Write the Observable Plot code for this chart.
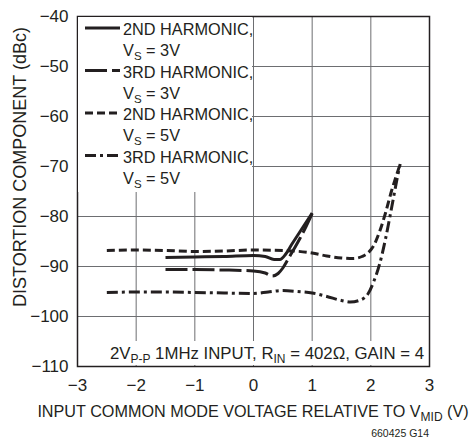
<!DOCTYPE html>
<html><head><meta charset="utf-8">
<script src="https://cdn.jsdelivr.net/npm/d3@7"></script>
<script src="https://cdn.jsdelivr.net/npm/@observablehq/plot@0.6"></script>
<style>
body{margin:0;background:#fff;}
#wrap{position:relative;width:474px;height:444px;}
#wrap svg{position:absolute;left:0;top:0;}
</style></head><body><div id="wrap"></div>
<script>
// ---- data ----
const xTicks = [-3, -2, -1, 0, 1, 2, 3];
const yTicks = [-110, -100, -90, -80, -70, -60, -50, -40];

const seriesHarmonic = ["2ND HARMONIC,", "3RD HARMONIC,", "2ND HARMONIC,", "3RD HARMONIC,"];
const seriesSupply = ["3V", "3V", "5V", "5V"];

// 2nd harmonic, VS = 3V
const x2nd3V = [-1.5, -1, -0.5, 0, 0.2, 0.35, 0.45, 0.55, 0.65, 0.75, 0.85, 1.0];
const y2nd3V = [-88.2, -88.1, -88.0, -87.8, -88.0, -88.6, -88.6, -87.5, -85.6, -83.8, -82.0, -79.3];
// 3rd harmonic, VS = 3V
const x3rd3V = [-1.5, -1, -0.5, 0, 0.2, 0.32, 0.42, 0.5, 0.6, 0.7, 0.8, 0.9, 1.0];
const y3rd3V = [-90.6, -90.6, -90.7, -90.9, -91.3, -91.9, -91.4, -90.3, -88.3, -86.3, -84.2, -81.9, -79.4];
// 2nd harmonic, VS = 5V
const x2nd5V = [-2.5, -2, -1.5, -1, -0.5, 0, 0.5, 1, 1.25, 1.5, 1.7, 1.85, 1.95, 2.05, 2.15, 2.25, 2.35, 2.45, 2.5];
const y2nd5V = [-86.8, -86.7, -86.8, -87.0, -86.9, -86.7, -86.8, -87.3, -87.9, -88.3, -88.4, -88.0, -87.3, -85.8, -83.0, -79.3, -75.0, -71.3, -69.5];
// 3rd harmonic, VS = 5V
const x3rd5V = [-2.5, -2, -1.5, -1, -0.5, 0, 0.25, 0.5, 0.75, 1, 1.25, 1.5, 1.65, 1.8, 1.95, 2.05, 2.15, 2.25, 2.35, 2.45, 2.5];
const y3rd5V = [-95.2, -95.1, -95.1, -95.2, -95.3, -95.4, -95.1, -94.8, -95.0, -95.3, -96.0, -96.8, -97.1, -96.8, -95.5, -93.0, -89.5, -84.5, -78.5, -72.3, -69.5];

// ---- styles ----
const FONT = '"Liberation Sans", Arial, Helvetica, sans-serif';
const INK = "#231f20";
const dashes = [null, "22,5", "8,4", "11,4,3,4"];
const LW = 3;

const xs = [x2nd3V, x3rd3V, x2nd5V, x3rd5V];
const ys = [y2nd3V, y3rd3V, y2nd5V, y3rd5V];
const rows = (i) => xs[i].map((x, k) => ({x, y: ys[i][k]}));
const fmt = d => d < 0 ? "\u2212" + Math.abs(d) : String(d);

const lineMarks = xs.map((_, i) => Plot.line(rows(i), {
  x: "x", y: "y", curve: "monotone-x", stroke: INK, strokeWidth: LW,
  strokeDasharray: dashes[i] || undefined, strokeLinecap: "butt"
}));

const chart = Plot.plot({
  width: 474, height: 444,
  marginLeft: 77, marginRight: 45, marginTop: 16, marginBottom: 78,
  style: {fontFamily: FONT, fontSize: "17px", color: INK, background: "white"},
  x: {domain: [-3, 3], ticks: xTicks, tickSize: 0, tickPadding: 12, label: null, tickFormat: fmt},
  y: {domain: [-110, -40], ticks: yTicks, tickSize: 0, tickPadding: 9, label: null, tickFormat: fmt},
  marks: [
    Plot.gridX(xTicks, {stroke: "#6d6e71", strokeOpacity: 1, strokeWidth: 1}),
    Plot.gridY(yTicks, {stroke: "#6d6e71", strokeOpacity: 1, strokeWidth: 1}),
    ...lineMarks,
    Plot.frame({stroke: INK, strokeWidth: 1.5})
  ]
});
const wrap = document.getElementById("wrap");
wrap.appendChild(chart);

// ---- overlay: legend, annotation, axis titles ----
const ov = d3.select(wrap).append("svg")
  .attr("width", 474).attr("height", 444)
  .style("font-family", FONT).attr("fill", INK);

// legend box
ov.append("rect").attr("x", 78).attr("y", 17).attr("width", 174).attr("height", 175).attr("fill", "white");
seriesHarmonic.forEach((name, i) => {
  const top = 35 + 42.5 * i;
  ov.append("line").attr("x1", 85).attr("x2", 120).attr("y1", top - 7).attr("y2", top - 7)
    .attr("stroke", INK).attr("stroke-width", LW).attr("stroke-dasharray", dashes[i]);
  ov.append("text").attr("x", 123).attr("y", top).attr("font-size", 16.3).text(name);
  const t = ov.append("text").attr("x", 123).attr("y", top + 21).attr("font-size", 16.3);
  t.append("tspan").text("V");
  t.append("tspan").attr("font-size", 11.5).attr("dy", 4).text("S");
  t.append("tspan").attr("dy", -4).text(" = " + seriesSupply[i]);
});

// annotation box
ov.append("rect").attr("x", 100).attr("y", 341).attr("width", 327).attr("height", 24).attr("fill", "white");
const an = ov.append("text").attr("x", 424).attr("y", 359).attr("text-anchor", "end").attr("font-size", 16.8);
an.append("tspan").text("2V");
an.append("tspan").attr("font-size", 12).attr("dy", 4).text("P-P");
an.append("tspan").attr("dy", -4).text(" 1MHz INPUT, R");
an.append("tspan").attr("font-size", 12).attr("dy", 4).text("IN");
an.append("tspan").attr("dy", -4).text(" = 402\u03A9, GAIN = 4");

// x title
const xt = ov.append("text").attr("x", 253).attr("y", 417).attr("text-anchor", "middle").attr("font-size", 16.2);
xt.append("tspan").text("INPUT COMMON MODE VOLTAGE RELATIVE TO V");
xt.append("tspan").attr("font-size", 12).attr("dy", 4).text("MID");
xt.append("tspan").attr("dy", -4).text(" (V)");

// y title
ov.append("text").attr("transform", "translate(26,167) rotate(-90)").attr("text-anchor", "middle")
  .attr("font-size", 18).text("DISTORTION COMPONENT (dBc)");

// figure code
ov.append("text").attr("x", 429).attr("y", 437).attr("text-anchor", "end").attr("font-size", 10.5).text("660425 G14");
</script>
</body></html>
